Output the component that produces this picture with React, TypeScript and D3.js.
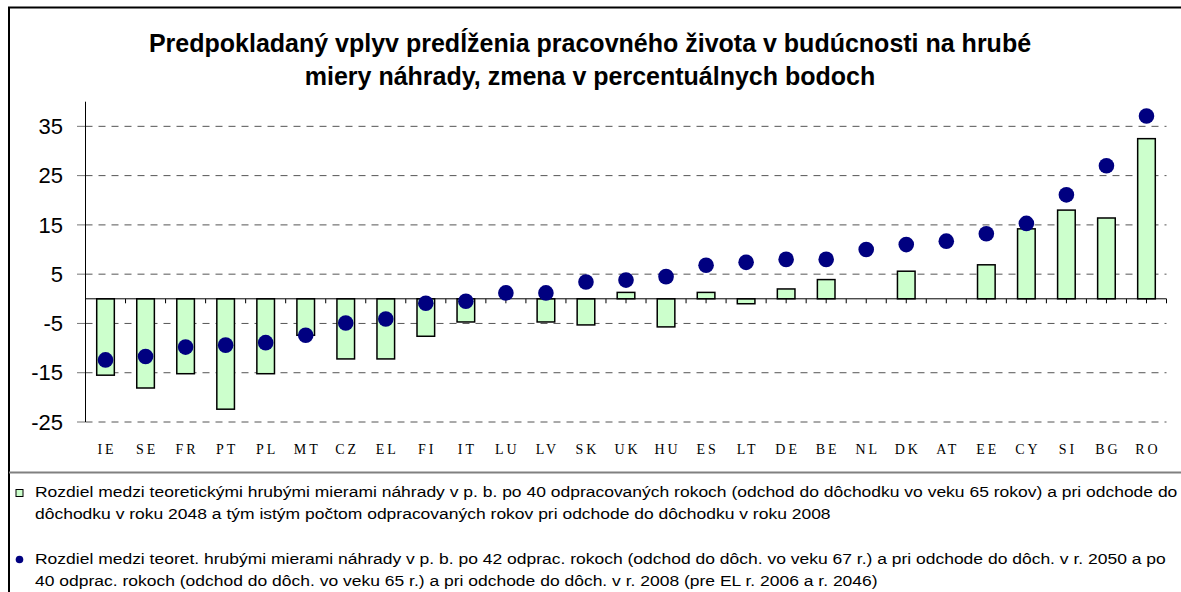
import React, { useEffect, useRef } from 'react'
import * as d3 from 'd3'

const countries = ['IE', 'SE', 'FR', 'PT', 'PL', 'MT', 'CZ', 'EL', 'FI', 'IT', 'LU', 'LV', 'SK', 'UK', 'HU', 'ES', 'LT', 'DE', 'BE', 'NL', 'DK', 'AT', 'EE', 'CY', 'SI', 'BG', 'RO']

// bars: change at 40 years of work, retirement in 2048 vs 2008
const barValues = [-15.5, -18.1, -15.2, -22.4, -15.2, -7.4, -12.2, -12.2, -7.6, -4.7, 0, -4.7, -5.3, 1.3, -5.7, 1.3, -1.0, 2.0, 3.9, 0, 5.6, 0, 6.9, 14.2, 18.0, 16.4, 32.5]

// dots: 42 years (retire at 67) in 2050 vs 40 years in 2008
const dotValues = [-12.4, -11.7, -9.8, -9.4, -8.9, -7.4, -4.9, -4.1, -0.9, -0.5, 1.2, 1.2, 3.4, 3.8, 4.5, 6.8, 7.4, 8.0, 8.0, 10.0, 11.0, 11.7, 13.2, 15.3, 21.1, 27.0, 37.1]

const yTicks = [-25, -15, -5, 5, 15, 25, 35]

const titleLines = [
  'Predpokladaný vplyv predĺženia pracovného života v budúcnosti na hrubé',
  'miery náhrady, zmena v percentuálnych bodoch',
]

const legendBarLines = [
  'Rozdiel medzi teoretickými hrubými mierami náhrady v p. b. po 40 odpracovaných rokoch (odchod do dôchodku vo veku 65 rokov) a pri odchode do',
  'dôchodku v roku 2048 a tým istým počtom odpracovaných rokov pri odchode do dôchodku v roku 2008',
]

const legendDotLines = [
  'Rozdiel medzi teoret. hrubými mierami náhrady v p. b. po 42 odprac. rokoch (odchod do dôch. vo veku 67 r.) a pri odchode do dôch. v r. 2050 a po',
  '40 odprac. rokoch (odchod do dôch. vo veku 65 r.) a pri odchode do dôch. v r. 2008 (pre EL r. 2006 a r. 2046)',
]

const W = 1181
const H = 592

export default function App() {
  const ref = useRef<SVGSVGElement>(null)

  useEffect(() => {
    const svg = d3.select(ref.current)
    svg.selectAll('*').remove()

    const left = 85.5
    const right = 1166.5
    const x = d3.scaleBand<string>().domain(countries).range([left, right]).paddingInner(0.56).paddingOuter(0.28)
    const y = d3.scaleLinear().domain([-25, 40]).range([422, 101.7])
    const y0 = y(0)

    svg.append('rect').attr('width', W).attr('height', H).attr('fill', '#fff')

    // frame
    svg.append('path')
      .attr('d', `M9,${H} V7.5 H${W}`)
      .attr('fill', 'none')
      .attr('stroke', '#000')
      .attr('stroke-width', 2)
    svg.append('line')
      .attr('x1', 9).attr('x2', W)
      .attr('y1', 472.5).attr('y2', 472.5)
      .attr('stroke', '#808080')
      .attr('stroke-width', 2)

    // title
    svg.append('g')
      .selectAll('text')
      .data(titleLines)
      .join('text')
      .attr('x', 590)
      .attr('y', (d, i) => 52 + i * 33)
      .attr('text-anchor', 'middle')
      .attr('font-family', '"Liberation Sans", Arial, sans-serif')
      .attr('font-weight', 'bold')
      .attr('font-size', 25)
      .text(d => d)

    // grid
    svg.append('g')
      .selectAll('line')
      .data(yTicks)
      .join('line')
      .attr('x1', left).attr('x2', right)
      .attr('y1', d => y(d)).attr('y2', d => y(d))
      .attr('stroke', '#555')
      .attr('stroke-dasharray', '7,6')

    // y ticks + labels
    const yAxis = svg.append('g')
    yAxis.selectAll('line')
      .data(yTicks)
      .join('line')
      .attr('x1', 77).attr('x2', left)
      .attr('y1', d => y(d)).attr('y2', d => y(d))
      .attr('stroke', '#777')
    yAxis.selectAll('text')
      .data(yTicks)
      .join('text')
      .attr('x', 63)
      .attr('y', d => y(d))
      .attr('dy', '0.35em')
      .attr('text-anchor', 'end')
      .attr('font-family', '"Liberation Sans", Arial, sans-serif')
      .attr('font-size', 22)
      .text(d => d)
    yAxis.append('line')
      .attr('x1', left).attr('x2', left)
      .attr('y1', y(40)).attr('y2', y(-25))
      .attr('stroke', '#000')

    // x axis ticks (band edges and centres)
    const step = x.step()
    const xTicks = d3.range(0, countries.length * 2 + 1).map(k => left + k * step / 2)
    svg.append('g')
      .selectAll('line')
      .data(xTicks)
      .join('line')
      .attr('x1', d => d).attr('x2', d => d)
      .attr('y1', y0).attr('y2', y0 + 4.5)
      .attr('stroke', '#000')

    // bars
    svg.append('g')
      .selectAll('rect')
      .data(countries.filter((c, i) => barValues[i] !== 0))
      .join('rect')
      .attr('x', c => x(c)!)
      .attr('width', x.bandwidth())
      .attr('y', c => Math.min(y(barValues[countries.indexOf(c)]), y0))
      .attr('height', c => Math.abs(y(barValues[countries.indexOf(c)]) - y0))
      .attr('fill', '#CCFFCC')
      .attr('stroke', '#000')
      .attr('stroke-width', 1.5)

    // zero line
    svg.append('line')
      .attr('x1', left).attr('x2', right)
      .attr('y1', y0).attr('y2', y0)
      .attr('stroke', '#000')

    // dots
    svg.append('g')
      .selectAll('circle')
      .data(countries)
      .join('circle')
      .attr('cx', c => x(c)! + x.bandwidth() / 2)
      .attr('cy', (c, i) => y(dotValues[i]))
      .attr('r', 7.8)
      .attr('fill', '#000080')

    // category labels
    svg.append('g')
      .selectAll('text')
      .data(countries)
      .join('text')
      .attr('x', c => x(c)! + x.bandwidth() / 2 + 1.5)
      .attr('y', 454)
      .attr('text-anchor', 'middle')
      .attr('font-family', '"Liberation Serif", "Times New Roman", serif')
      .attr('font-size', 14)
      .attr('letter-spacing', 3)
      .text(c => c)

    // legend
    const legend = svg.append('g')
    legend.append('rect')
      .attr('x', 16).attr('y', 489.5)
      .attr('width', 7).attr('height', 7)
      .attr('fill', '#CCFFCC')
      .attr('stroke', '#000')
    legend.append('circle')
      .attr('cx', 19.5).attr('cy', 559.5)
      .attr('r', 3.8)
      .attr('fill', '#000080')
    // the original legend text is rendered wide, so stretch it horizontally
    const legendText = legend.append('g')
      .attr('transform', 'translate(35,0) scale(1.19,1)')
      .attr('font-family', '"Liberation Sans", Arial, sans-serif')
      .attr('font-size', 14.7)
    legendText.selectAll('text.bar')
      .data(legendBarLines)
      .join('text')
      .attr('class', 'bar')
      .attr('x', 0)
      .attr('y', (d, i) => 497 + i * 22.5)
      .text(d => d)
    legendText.selectAll('text.dot')
      .data(legendDotLines)
      .join('text')
      .attr('class', 'dot')
      .attr('x', 0)
      .attr('y', (d, i) => 564 + i * 22.5)
      .text(d => d)
  }, [])

  return (
    <svg ref={ref} width={W} height={H} style={{ position: 'absolute', left: 0, top: 0 }} />
  )
}
